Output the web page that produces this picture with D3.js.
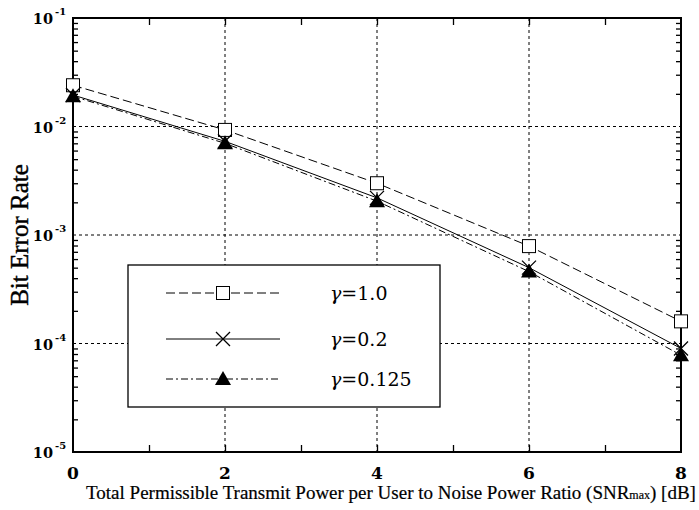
<!DOCTYPE html>
<html><head><meta charset="utf-8">
<script src="https://cdn.jsdelivr.net/npm/d3@7"></script>
<style>body{margin:0;background:#fff}</style>
</head><body>
<svg id="c" width="699" height="510"></svg>
<script>
const snr = [0, 2, 4, 6, 8];
const ber_g10 = [2.4e-2, 9.3e-3, 3.0e-3, 7.9e-4, 1.6e-4];
const ber_g02 = [1.95e-2, 7.3e-3, 2.2e-3, 5.0e-4, 9.0e-5];
const ber_g0125 = [1.9e-2, 7.0e-3, 2.05e-3, 4.6e-4, 7.8e-5];
const seriesGamma = ["1.0", "0.2", "0.125"];
const xTicks = [0, 2, 4, 6, 8];
const yTickExp = [-1, -2, -3, -4, -5];

const svg = d3.select("#c");
const L = 73, R = 681, T = 18, B = 452;
const x = d3.scaleLinear().domain([0, 8]).range([L, R]);
const y = d3.scaleLog().domain([1e-5, 1e-1]).range([B, T]);
const font = "'Liberation Serif', 'DejaVu Serif', serif";
const fontNum = "'DejaVu Serif', serif";

const g = svg.append("g");
g.selectAll("line.gx").data([2, 4, 6]).join("line")
  .attr("x1", d => x(d)).attr("x2", d => x(d)).attr("y1", T).attr("y2", B)
  .attr("stroke", "#000").attr("stroke-width", 1).attr("stroke-dasharray", "3,3");
g.selectAll("line.gy").data([1e-2, 1e-3, 1e-4]).join("line")
  .attr("y1", d => y(d)).attr("y2", d => y(d)).attr("x1", L).attr("x2", R)
  .attr("stroke", "#000").attr("stroke-width", 1).attr("stroke-dasharray", "3,3");

const minorY = [];
for (let e = -5; e < -1; e++) for (let m = 2; m <= 9; m++) minorY.push(m * Math.pow(10, e));
svg.append("g").attr("transform", `translate(${L},0)`)
  .call(d3.axisRight(y).tickValues(minorY).tickSize(5).tickFormat(""))
  .call(s => { s.select(".domain").remove(); s.selectAll("line").attr("stroke-width", 1.3); });
svg.append("g").attr("transform", `translate(${R},0)`)
  .call(d3.axisLeft(y).tickValues(minorY).tickSize(5).tickFormat(""))
  .call(s => { s.select(".domain").remove(); s.selectAll("line").attr("stroke-width", 1.3); });
svg.append("g").attr("transform", `translate(0,${B})`)
  .call(d3.axisTop(x).tickValues([1, 2, 3, 4, 5, 6, 7]).tickSize(7).tickFormat(""))
  .call(s => { s.select(".domain").remove(); s.selectAll("line").attr("stroke-width", 1.3); });
svg.append("g").attr("transform", `translate(0,${T})`)
  .call(d3.axisBottom(x).tickValues([1, 2, 3, 4, 5, 6, 7]).tickSize(7).tickFormat(""))
  .call(s => { s.select(".domain").remove(); s.selectAll("line").attr("stroke-width", 1.3); });

svg.append("rect").attr("x", L).attr("y", T).attr("width", R - L).attr("height", B - T)
  .attr("fill", "none").attr("stroke", "#000").attr("stroke-width", 2);

svg.selectAll("text.xt").data(xTicks).join("text")
  .attr("x", d => x(d)).attr("y", 479).attr("text-anchor", "middle")
  .attr("font-family", fontNum).attr("font-size", 17).attr("font-weight", "bold")
  .text(d => String(d));
svg.selectAll("text.ytb").data(yTickExp).join("text")
  .attr("x", 53).attr("y", d => y(Math.pow(10, d)) + 6).attr("text-anchor", "end")
  .attr("font-family", fontNum).attr("font-weight", "bold").attr("font-size", 14.5)
  .text("10");
svg.selectAll("text.yte").data(yTickExp).join("text")
  .attr("x", 55).attr("y", d => y(Math.pow(10, d)) - 3).attr("text-anchor", "start")
  .attr("font-family", fontNum).attr("font-weight", "bold").attr("font-size", 10)
  .text(d => "-" + (-d));

const xl = svg.append("text").attr("x", 391).attr("y", 499).attr("text-anchor", "middle")
  .attr("font-family", font).attr("font-size", 19)
  .attr("stroke", "#000").attr("stroke-width", 0.2);
xl.append("tspan").text("Total Permissible Transmit Power per User to Noise Power Ratio (SNR");
xl.append("tspan").attr("font-size", 12).text("max");
xl.append("tspan").text(")  [dB]");
svg.append("text").attr("transform", "translate(28,235) rotate(-90)").attr("text-anchor", "middle")
  .attr("font-family", font).attr("font-size", 25)
  .attr("stroke", "#000").attr("stroke-width", 0.4).text("Bit Error Rate");

const series = [
  { vals: ber_g10, dash: "9,4", marker: "square" },
  { vals: ber_g02, dash: null, marker: "x" },
  { vals: ber_g0125, dash: "7,3,2,3", marker: "tri" }
];
const line = d3.line().x(d => x(d[0])).y(d => y(d[1]));
function drawMarker(sel, type, cx, cy) {
  if (type === "square") {
    sel.append("rect").attr("x", cx - 6.5).attr("y", cy - 6.5).attr("width", 13).attr("height", 13)
      .attr("fill", "#fff").attr("stroke", "#000").attr("stroke-width", 1);
  } else if (type === "x") {
    sel.append("path").attr("d", `M${cx-7},${cy-7}L${cx+7},${cy+7}M${cx-7},${cy+7}L${cx+7},${cy-7}`)
      .attr("stroke", "#000").attr("stroke-width", 1.3).attr("fill", "none");
  } else {
    sel.append("path").attr("d", `M${cx},${cy-8}L${cx+8},${cy+6}L${cx-8},${cy+6}Z`).attr("fill", "#000");
  }
}
series.forEach(s => {
  const pts = snr.map((v, i) => [v, s.vals[i]]);
  svg.append("path").attr("d", line(pts)).attr("fill", "none").attr("stroke", "#000")
    .attr("stroke-width", 1).attr("stroke-dasharray", s.dash);
});
series.forEach(s => {
  const mg = svg.append("g");
  snr.forEach((v, i) => drawMarker(mg, s.marker, x(v), y(s.vals[i])));
});

svg.append("rect").attr("x", 128).attr("y", 265).attr("width", 312).attr("height", 142)
  .attr("fill", "#fff").attr("stroke", "#000").attr("stroke-width", 1.3);
const rows = [293, 339, 379];
series.forEach((s, i) => {
  svg.append("line").attr("x1", 166).attr("x2", 280).attr("y1", rows[i]).attr("y2", rows[i])
    .attr("stroke", "#000").attr("stroke-width", 1).attr("stroke-dasharray", s.dash);
  const mg = svg.append("g");
  drawMarker(mg, s.marker, 223, rows[i]);
  const t = svg.append("text").attr("x", 330).attr("y", rows[i] + 7).attr("font-family", fontNum)
    .attr("font-size", 19);
  t.append("tspan").attr("font-style", "italic").text("\u03b3");
  t.append("tspan").text("=" + seriesGamma[i]);
});
</script>
</body></html>
